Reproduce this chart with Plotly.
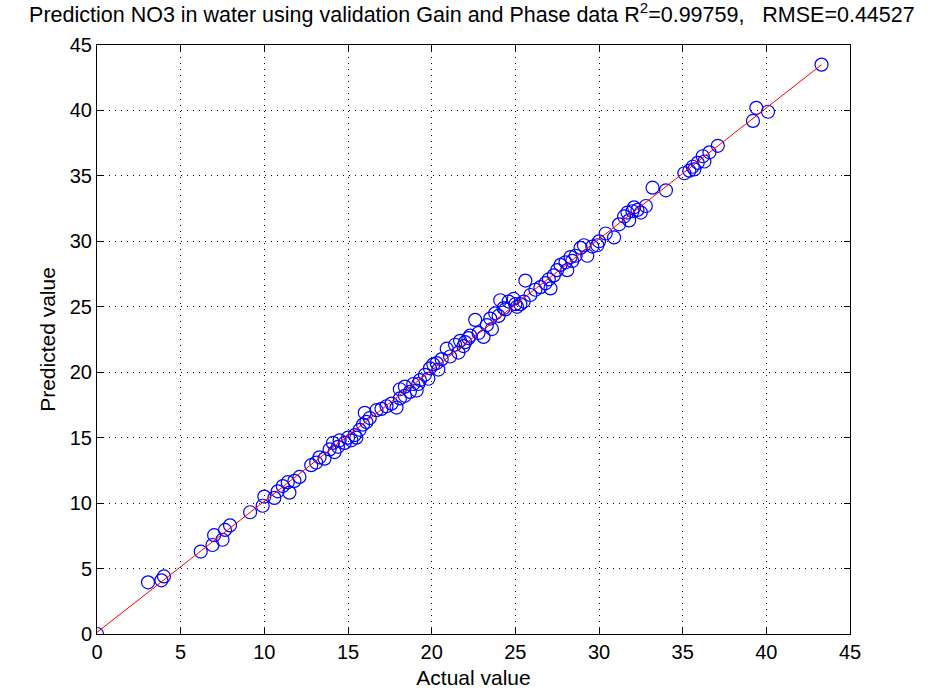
import numpy as np
import plotly.graph_objects as go

actual = [0, 3.05, 3.85, 4.0, 6.2, 6.9, 7.0, 7.5, 7.65, 7.95, 9.15, 9.9, 10.0, 10.6, 10.8, 11.1, 11.5, 11.4,
          11.8, 12.1, 12.8, 13.1, 13.3, 13.6, 13.9, 14.1, 14.4, 14.5, 14.8, 15.0, 15.2, 15.4, 15.7, 15.9,
          16.0, 16.3, 16.7, 17.0, 17.3, 17.6, 17.9, 18.1, 18.1, 18.4, 18.7, 18.9, 19.1, 19.3, 19.6, 19.8,
          19.9, 20.1, 20.4, 20.6, 20.9, 21.1, 21.4, 21.7, 21.9, 22.2, 22.3, 22.6, 22.8, 23.1, 23.3, 23.5,
          23.8, 24.0, 24.1, 24.4, 24.6, 24.9, 25.1, 25.3, 25.5, 25.6, 25.9, 26.2, 26.5, 26.8, 27.1, 27.3,
          27.5, 27.7, 28.0, 28.1, 28.3, 28.6, 28.9, 29.1, 29.3, 29.6, 30.0, 30.4, 30.9, 31.2, 31.5, 31.7,
          32.0, 32.3, 32.5, 32.8, 33.2, 34.0, 35.1, 35.4, 35.6, 35.9, 36.2, 36.6, 37.1, 39.2, 39.4, 40.1,
          43.3,
          14.2, 15.5, 16.1, 18.4, 19.2, 20.3, 21.6, 22.0, 23.6, 24.3, 25.0, 27.0, 28.4, 29.9, 31.8, 32.1,
          35.7, 36.3]
predicted = [0, 3.95, 4.1, 4.4, 6.3, 6.8, 7.55, 7.2, 7.95, 8.3, 9.3, 9.8, 10.5, 10.4, 10.9, 11.3, 10.8, 11.6,
             11.7, 12.0, 12.9, 13.1, 13.5, 13.4, 14.1, 14.6, 14.3, 14.8, 14.6, 15.0, 14.8, 15.2, 15.6, 16.0,
             16.9, 16.5, 17.1, 17.2, 17.4, 17.6, 17.3, 18.0, 18.7, 18.2, 18.5, 19.1, 18.6, 19.4, 19.8, 19.5,
             20.3, 20.6, 20.2, 21.0, 21.8, 21.2, 22.1, 22.4, 22.0, 22.6, 22.8, 24.0, 23.0, 22.7, 23.6, 24.1,
             24.5, 24.3, 25.5, 24.8, 25.4, 25.6, 25.0, 25.2, 25.4, 27.0, 25.9, 26.3, 26.5, 26.8, 26.4, 27.4,
             27.8, 28.2, 28.4, 27.8, 28.8, 28.9, 29.5, 29.7, 28.9, 29.6, 30.0, 30.6, 30.3, 31.3, 31.9, 32.2,
             32.3, 32.4, 32.2, 32.7, 34.1, 33.9, 35.2, 35.4, 35.7, 36.0, 36.5, 36.8, 37.3, 39.2, 40.2, 39.9,
             43.5,
             13.9, 15.0, 16.2, 18.9, 19.1, 20.7, 21.5, 22.3, 23.3, 24.9, 25.2, 27.1, 28.5, 29.7, 31.6, 32.6,
             35.5, 36.1]
tick_vals = [0, 5, 10, 15, 20, 25, 30, 35, 40, 45]
title_text = "Prediction NO3 in water using validation Gain and Phase data R<sup>2</sup>=0.99759,   RMSE=0.44527"
x_title = "Actual value"
y_title = "Predicted value"

slope, intercept = np.polyfit(actual, predicted, 1)
fit_x = [min(actual), max(actual)]
fit_y = [slope * v + intercept for v in fit_x]

font_fam = "Liberation Sans, Arial, sans-serif"

fig = go.Figure()
fig.add_trace(go.Scatter(x=actual, y=predicted, mode="markers",
                         marker=dict(symbol="circle-open", size=13, color="#0000ff",
                                     line=dict(width=1.2, color="#0000ff")),
                         showlegend=False, hoverinfo="x+y"))
fig.add_trace(go.Scatter(x=fit_x, y=fit_y, mode="lines", line=dict(color="#ff0000", width=1),
                         showlegend=False))

axis_common = dict(range=[0, 45], tickvals=tick_vals, ticks="inside", ticklen=6, tickcolor="black",
                   showline=True, linecolor="black", linewidth=1, mirror="ticks",
                   showgrid=True, gridcolor="black", griddash="1px,5px", gridwidth=1.3,
                   zeroline=False, tickfont=dict(family=font_fam, size=20, color="black"))

fig.update_layout(
    width=940, height=698,
    paper_bgcolor="white", plot_bgcolor="white",
    margin=dict(l=97, r=90, t=45, b=64),
    title=dict(text=title_text, x=0.502, xanchor="center", y=0.99, yanchor="top",
               font=dict(family=font_fam, size=21.5, color="black")),
    xaxis=dict(**axis_common, title=dict(text=x_title, font=dict(family=font_fam, size=21, color="black"),
                                         standoff=8)),
    yaxis=dict(**axis_common, title=dict(text=y_title, font=dict(family=font_fam, size=21, color="black"),
                                         standoff=8)),
)

fig.write_html("out.html", config={"displayModeBar": False},
               post_script="document.body.style.margin='0';")
